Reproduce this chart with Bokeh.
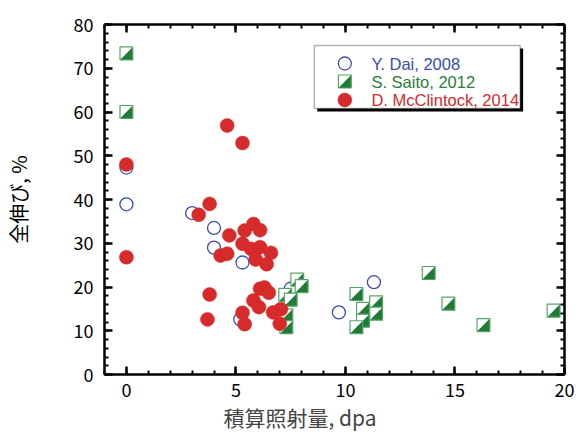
from bokeh.plotting import figure
from bokeh.models import (ColumnDataSource, SingleIntervalTicker, LinearAxis,
                          BoxAnnotation, Title, Range1d, CustomLabelingPolicy)
from bokeh.core.properties import value
from bokeh.embed import file_html
from bokeh.resources import INLINE

# ---- data: total elongation (%) vs. accumulated dose (dpa) ----
# Y. Dai, 2008
dai_dpa = [0.0, 0.0, 3.0, 4.0, 4.0, 5.3, 5.2, 7.5, 9.7, 11.3]
dai_elong = [47.3, 38.9, 36.9, 33.5, 29.0, 25.6, 12.6, 19.6, 14.2, 21.1]

# S. Saito, 2012
saito_dpa = [0.0, 0.0, 7.25, 7.8, 8.0, 7.5, 7.3, 7.3, 10.5, 10.8, 11.4, 11.4,
             10.8, 10.5, 13.8, 14.7, 16.3, 19.5]
saito_elong = [73.4, 60.0, 18.2, 21.7, 20.2, 17.1, 13.5, 10.8, 18.4, 15.0, 16.5,
               13.9, 12.3, 10.8, 23.2, 16.2, 11.3, 14.6]

# D. McClintock, 2014
mcc_dpa = [0.0, 0.0, 4.6, 5.3, 3.8, 3.3, 4.7, 5.4, 5.8, 6.1, 5.3, 5.7, 6.1, 6.6,
           5.9, 6.4, 4.3, 4.6, 3.8, 3.7, 5.3, 5.4, 6.1, 6.3, 6.5, 5.8, 6.05,
           6.7, 7.05, 7.0]
mcc_elong = [48.0, 26.8, 56.9, 52.9, 39.0, 36.5, 31.8, 32.9, 34.4, 33.0, 29.9,
             28.7, 29.1, 27.8, 26.3, 25.2, 27.2, 27.6, 18.3, 12.6, 14.1, 11.5,
             19.6, 19.9, 18.7, 16.9, 15.4, 14.2, 14.9, 11.6]

series_labels = ["Y. Dai, 2008", "S. Saito, 2012", "D. McClintock, 2014"]
x_ticks_major = 5
y_ticks_major = 10

# ---- styling / layout ----
BLUE = "#3a4fb0"
BLUE_TXT = "#3b4ca8"
GREEN_DARK = "#1f7b35"
GREEN_EDGE = "#55a468"
GREEN_TXT = "#2a7d3b"
RED = "#d62a2b"
RED_TXT = "#d42a2a"

X0, X1, Y0, Y1 = -1, 20, 0, 80
W, H = 587, 436
BL, BR, BT, BB = 103, 17, 24, 62
FW, FH = W - BL - BR, H - BT - BB

JP = "Noto Sans CJK JP"


def sx_to_x(px):
    return X0 + (px - BL) * (X1 - X0) / FW


def sy_to_y(py):
    return Y1 - (py - BT) * (Y1 - Y0) / FH


def half_squares(xs, ys, half_px):
    """Square with white upper-left half and dark lower-right half."""
    hx = half_px * (X1 - X0) / FW
    hy = half_px * (Y1 - Y0) / FH
    d = dict(xs=[], ys=[], fc=[], fa=[], lc=[], la=[])
    for x, y in zip(xs, ys):
        sq_x = [x - hx, x + hx, x + hx, x - hx]
        sq_y = [y + hy, y + hy, y - hy, y - hy]
        tri_x = [x + hx, x + hx, x - hx]
        tri_y = [y + hy, y - hy, y - hy]
        for px_, py_, fc, fa, lc, la in (
            (sq_x, sq_y, "white", 1.0, GREEN_EDGE, 0.0),
            (tri_x, tri_y, GREEN_DARK, 1.0, GREEN_DARK, 0.0),
            (sq_x, sq_y, "white", 0.0, GREEN_EDGE, 1.0),
        ):
            d["xs"].append(px_)
            d["ys"].append(py_)
            d["fc"].append(fc)
            d["fa"].append(fa)
            d["lc"].append(lc)
            d["la"].append(la)
    return ColumnDataSource(d)


p = figure(width=W, height=H, x_range=Range1d(X0, X1), y_range=Range1d(Y0, Y1),
           output_backend="svg", toolbar_location=None,
           min_border_left=BL, min_border_right=BR,
           min_border_top=BT, min_border_bottom=BB)
p.outline_line_color = None
p.grid.visible = False

# axes on all four sides, ticks pointing inward
xt = SingleIntervalTicker(interval=x_ticks_major, num_minor_ticks=5)
yt = SingleIntervalTicker(interval=y_ticks_major, num_minor_ticks=5)
p.add_layout(LinearAxis(), "above")
p.add_layout(LinearAxis(), "right")
for ax in p.xaxis:
    ax.ticker = xt
for ax in p.yaxis:
    ax.ticker = yt
for ax in p.axis:
    ax.axis_line_width = 2.5
    ax.axis_line_color = "black"
    ax.major_tick_in = 8
    ax.major_tick_out = 0
    ax.minor_tick_in = 4
    ax.minor_tick_out = 0
    ax.major_tick_line_width = 2.5
    ax.minor_tick_line_width = 2
    ax.major_label_text_font = JP
    ax.major_label_text_font_size = "18px"
    ax.major_label_text_color = "black"
# top and right axes carry ticks only, no labels
for ax in (p.above[0], p.right[0]):
    ax.major_label_policy = CustomLabelingPolicy(code="return []")
    ax.major_label_standoff = 0

p.below[0].major_label_standoff = 8
p.left[0].major_label_standoff = 11
p.left[0].axis_label = "全伸び, %"
p.left[0].axis_label_text_font = JP
p.left[0].axis_label_text_font_size = "20px"
p.left[0].axis_label_text_font_style = "normal"
p.left[0].axis_label_text_color = "black"
p.left[0].axis_label_standoff = 38

p.add_layout(Title(text="積算照射量, dpa", align="left", offset=119,
                   text_font=JP, text_font_size="21px",
                   text_font_style="normal", standoff=0), "below")

# data marks: Dai (open circles), Saito (half squares), McClintock (filled circles)
p.scatter(dai_dpa, dai_elong, marker="circle", size=13, fill_color=None,
          line_color=BLUE, line_width=1.3)
p.patches("xs", "ys", source=half_squares(saito_dpa, saito_elong, 6.5),
          fill_color="fc", fill_alpha="fa", line_color="lc", line_alpha="la",
          line_width=1.2)
p.scatter(mcc_dpa, mcc_elong, marker="circle", size=14, fill_color=RED,
          line_color=RED, line_width=0.5)

# legend box with drop shadow
box = dict(L=316, T=45, R=525, B=108)
p.add_layout(BoxAnnotation(left=sx_to_x(box["L"] + 3), right=sx_to_x(box["R"] + 3),
                           top=sy_to_y(box["T"] + 3), bottom=sy_to_y(box["B"] + 3),
                           fill_color="black", fill_alpha=1, line_color=None,
                           level="underlay"))
p.add_layout(BoxAnnotation(left=sx_to_x(box["L"]), right=sx_to_x(box["R"]),
                           top=sy_to_y(box["T"]), bottom=sy_to_y(box["B"]),
                           fill_color="white", fill_alpha=1, line_color="black",
                           line_width=1.5, level="underlay"))

rows_py = [63, 81, 99.5]
mark_x = sx_to_x(347)
text_x = sx_to_x(374)
p.scatter([mark_x], [sy_to_y(rows_py[0])], marker="circle", size=13,
          fill_color=None, line_color=BLUE, line_width=1.3)
p.patches("xs", "ys", source=half_squares([mark_x], [sy_to_y(rows_py[1])], 6.5),
          fill_color="fc", fill_alpha="fa", line_color="lc", line_alpha="la",
          line_width=1.2)
p.scatter([mark_x], [sy_to_y(rows_py[2])], marker="circle", size=14,
          fill_color=RED, line_color=RED, line_width=0.5)
p.text(x=[text_x] * 3, y=[sy_to_y(v) for v in rows_py], text=series_labels,
       text_color=[BLUE_TXT, GREEN_TXT, RED_TXT], text_font=value("Liberation Sans"),
       text_font_size="16.5px", text_align="left", text_baseline="middle")

open("out.html", "w").write(file_html(p, INLINE))
